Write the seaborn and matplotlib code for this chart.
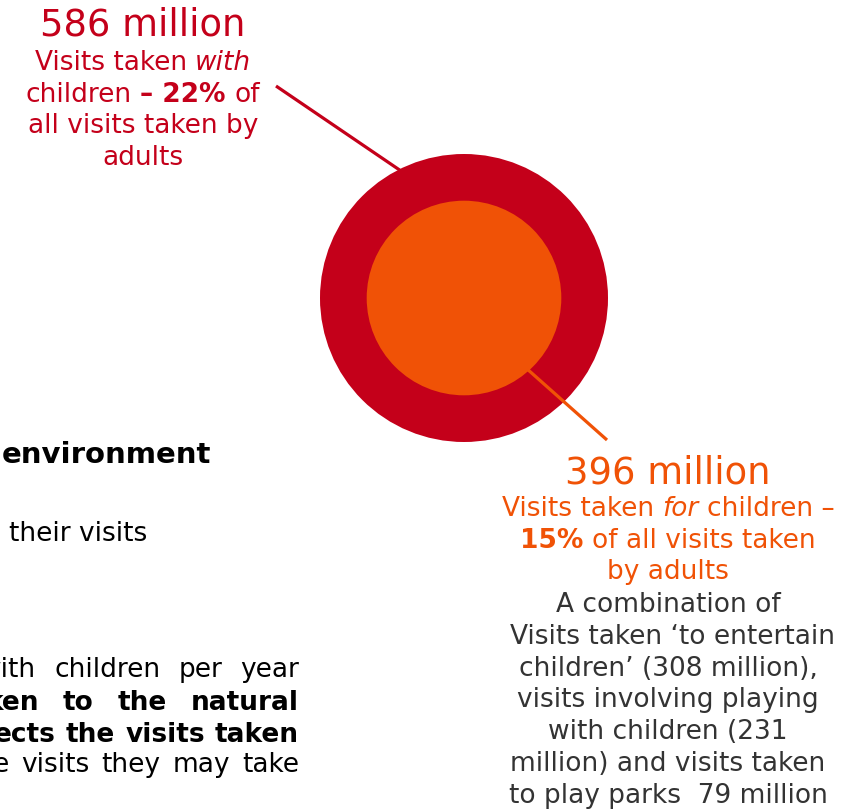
import matplotlib
matplotlib.use("Agg")
import matplotlib.pyplot as plt
from matplotlib.patches import Circle
import seaborn as sns

# Adult visits to the natural environment involving children (millions)
visit_millions = [586, 396]          # taken *with* children, taken *for* children
visit_share_pct = [22, 15]           # share of all visits taken by adults
component_millions = [308, 231, 79]  # entertain children, playing with children, play parks

RED = "#C4001A"
ORANGE = "#F05206"
GREY = "#333333"

sns.set_theme(style="white")
plt.rcParams["font.family"] = ["DejaVu Sans"]

W, H = 849, 810
fig = plt.figure(figsize=(W / 100, H / 100), dpi=100)
fig.patch.set_facecolor("white")
ax = fig.add_axes([0, 0, 1, 1])
ax.set_xlim(0, W)
ax.set_ylim(H, 0)
ax.axis("off")
renderer = fig.canvas.get_renderer()

BIG = 26.6     # headline numbers
MID = 19       # caption text
HEAD = 21      # bold heading on the left


def text_width(s, size, weight="normal", style="normal"):
    t = ax.text(0, 0, s, fontsize=size, fontweight=weight, fontstyle=style)
    w = t.get_window_extent(renderer).width
    t.remove()
    return w


def space_width(size, weight="normal"):
    return text_width("a a", size, weight) - text_width("aa", size, weight)


def rich_line(cx, y, parts, size, color):
    """Centre a line made of differently styled runs at cx, baseline y."""
    pieces, total = [], 0.0
    for s, wt, st in parts:
        sp = space_width(size, wt)
        lead = (len(s) - len(s.lstrip(" "))) * sp
        trail = (len(s) - len(s.rstrip(" "))) * sp
        core = s.strip(" ")
        cw = text_width(core, size, wt, st) if core else 0.0
        pieces.append((lead, core, cw, trail, wt, st))
        total += lead + cw + trail
    x = cx - total / 2
    for lead, core, cw, trail, wt, st in pieces:
        x += lead
        if core:
            ax.text(x, y, core, ha="left", va="baseline", fontsize=size,
                    fontweight=wt, fontstyle=st, color=color)
        x += cw + trail


def plain(s):
    return (s, "normal", "normal")


def words_right(xr, y, words, gap, size, weight="normal", color="black"):
    """Right-justified run of words with a fixed gap (justified paragraph line)."""
    x = xr
    for w in reversed(words):
        ax.text(x, y, w, ha="right", va="baseline", fontsize=size,
                fontweight=weight, color=color)
        x -= text_width(w, size, weight) + gap


# --- nested circles: radius proportional to visits -------------------------
cx, cy = 464, 298
px_per_million = 144 / visit_millions[0]
r_with = visit_millions[0] * px_per_million
r_for = visit_millions[1] * px_per_million

# leader lines
ax.plot([276, 404], [86, 173], color=RED, lw=2.3, solid_capstyle="butt", zorder=1)
ax.add_patch(Circle((cx, cy), r_with, facecolor=RED, edgecolor="none", zorder=2))
ax.add_patch(Circle((cx, cy), r_for, facecolor=ORANGE, edgecolor="none", zorder=3))
ax.plot([526, 607], [368, 440], color=ORANGE, lw=2.3, solid_capstyle="butt", zorder=4)

# --- caption for visits taken with children --------------------------------
lx = 143
ax.text(lx, 36, f"{visit_millions[0]} million", ha="center", va="baseline",
        fontsize=BIG, color=RED)
rich_line(lx, 70, [plain("Visits taken "), ("with", "normal", "italic")], MID, RED)
rich_line(lx, 101.5, [plain("children "), (f"\u2013 {visit_share_pct[0]}%", "bold", "normal"),
                      plain(" of")], MID, RED)
rich_line(lx, 133, [plain("all visits taken by")], MID, RED)
rich_line(lx, 165, [plain("adults")], MID, RED)

# --- caption for visits taken for children ---------------------------------
rx = 668
ax.text(rx, 483, f"{visit_millions[1]} million", ha="center", va="baseline",
        fontsize=BIG, color=ORANGE)
rich_line(rx, 516, [plain("Visits taken "), ("for", "normal", "italic"),
                    plain(" children \u2013")], MID, ORANGE)
rich_line(rx, 548, [(f"{visit_share_pct[1]}%", "bold", "normal"),
                    plain(" of all visits taken")], MID, ORANGE)
rich_line(rx, 579, [plain("by adults")], MID, ORANGE)

grey_lines = [
    "A combination of",
    " Visits taken \u2018to entertain",
    f"children\u2019 ({component_millions[0]} million),",
    "visits involving playing",
    f"with children ({component_millions[1]}",
    "million) and visits taken",
    f"to play parks  {component_millions[2]} million",
]
for i, line in enumerate(grey_lines):
    rich_line(rx, 612 + i * 31.8, [plain(line)], MID, GREY)

# --- body copy running in from the left margin -----------------------------
ax.text(211, 463, "environment", ha="right", va="baseline", fontsize=HEAD,
        fontweight="bold", color="black")
ax.text(147, 541, "their visits", ha="right", va="baseline", fontsize=MID,
        color="black")
words_right(299, 677, ["with", "children", "per", "year"], 18, MID)
words_right(299, 709.5, ["ken", "to", "the", "natural"], 24, MID, weight="bold")
words_right(299, 741.5, ["ects", "the", "visits", "taken"], 10, MID, weight="bold")
words_right(299, 772.5, ["e", "visits", "they", "may", "take"], 12, MID)

fig.savefig("out.png", dpi=100, facecolor="white")
